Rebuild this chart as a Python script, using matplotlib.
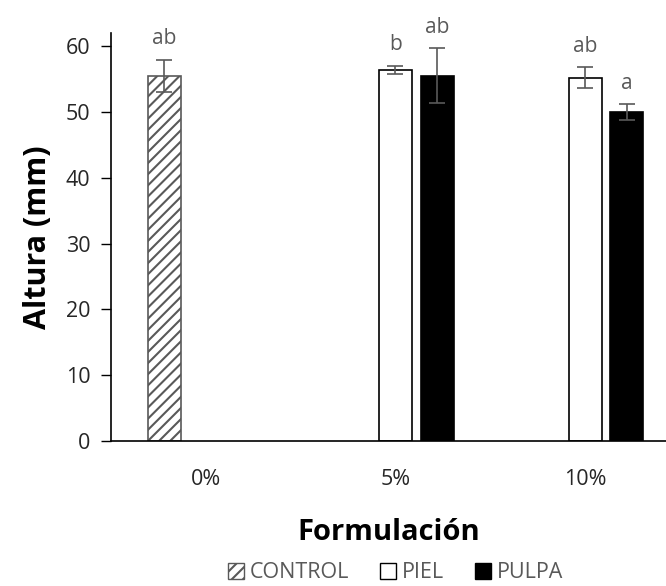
import numpy as np
import matplotlib.pyplot as plt
from matplotlib.patches import Patch

plt.rcParams['font.family'] = ['Open Sans', 'DejaVu Sans']
plt.rcParams['hatch.linewidth'] = 1.5

categorias = ['0%', '5%', '10%']
control = [55.5, np.nan, np.nan]
control_err = [2.4, 0, 0]
piel = [np.nan, 56.4, 55.2]
piel_err = [0, 0.6, 1.6]
pulpa = [np.nan, 55.5, 50.0]
pulpa_err = [0, 4.2, 1.2]
letras_control = ['ab', '', '']
letras_piel = ['', 'b', 'ab']
letras_pulpa = ['', 'ab', 'a']

gris = '#595959'
x = np.arange(len(categorias))
w = 0.174
off = 0.22

fig = plt.figure(figsize=(6.66, 5.86), dpi=100)
ax = fig.add_axes([0.1667, 0.2474, 0.8333, 0.6963])

series = [
    (control, control_err, letras_control, -off, dict(color='white', edgecolor=gris, hatch='///')),
    (piel, piel_err, letras_piel, 0, dict(color='white', edgecolor='black')),
    (pulpa, pulpa_err, letras_pulpa, off, dict(color='black', edgecolor='black')),
]
for vals, errs, letras, d, estilo in series:
    ax.bar(x + d, vals, w, linewidth=1.2, **estilo)
    ax.errorbar(x + d, vals, yerr=errs, fmt='none', ecolor=gris,
                elinewidth=1.2, capsize=6, capthick=1.2)
    for xi, v, e, t in zip(x + d, vals, errs, letras):
        if t:
            ax.text(xi, v + e + 1.6, t, ha='center', va='bottom',
                    fontsize=15, color=gris)

ax.set_xlim(-0.5, 2.5 - 14 / 190)
ax.set_ylim(0, 62)
ax.set_yticks(range(0, 61, 10))
ax.set_xticks(x)
ax.set_xticklabels(categorias)
ax.tick_params(axis='x', length=0, pad=20, labelsize=15.5, labelcolor='#262626')
ax.tick_params(axis='y', length=7, width=1, labelsize=15.5, labelcolor='#262626', pad=8)
for s in ['top', 'right']:
    ax.spines[s].set_visible(False)
ax.spines['left'].set_linewidth(1.2)
ax.spines['bottom'].set_linewidth(1.2)

ax.set_ylabel('Altura (mm)', fontsize=22, fontweight='bold', labelpad=9)
ax.set_xlabel('Formulación', fontsize=21, fontweight='bold', labelpad=20)

handles = [
    Patch(facecolor='white', edgecolor=gris, hatch='///', label='CONTROL'),
    Patch(facecolor='white', edgecolor='black', label='PIEL'),
    Patch(facecolor='black', edgecolor='black', label='PULPA'),
]
leg = fig.legend(handles=handles, loc='center', ncol=3, frameon=False,
                 bbox_to_anchor=(0.594, 1 - 573 / 586), fontsize=15.5, handlelength=0.75,
                 handleheight=0.75, handletextpad=0.3, columnspacing=1.4,
                 borderpad=0)
for t in leg.get_texts():
    t.set_color(gris)

fig.savefig('out.png', dpi=100)
